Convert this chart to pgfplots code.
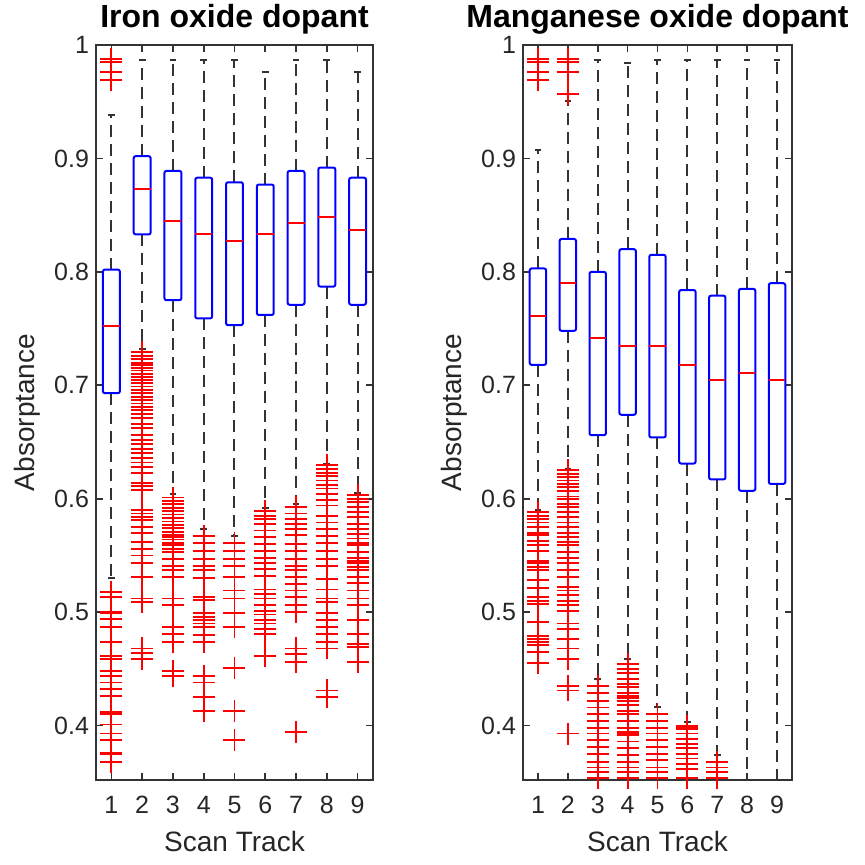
\documentclass[border=0pt]{standalone}
\usepackage{fontspec}
\setmainfont{Liberation Sans}
\usepackage{pgfplots}
\pgfplotsset{compat=1.18}
\usepgfplotslibrary{statistics}

\pgfplotsset{
  bxaxis/.style={
    scale only axis,
    clip=false,
    height=367.5pt,
    xmin=0.5, xmax=9.5,
    ymin=0.352, ymax=1,
    axis line style={black!80, line width=0.8pt},
    tick style={black!80, line width=0.8pt},
    major tick length=3.5pt,
    tick align=inside,
    xtick={1,...,9},
    xticklabels={1,2,3,4,5,6,7,8,9},
    ytick={0.4,0.5,0.6,0.7,0.8,0.9,1},
    yticklabels={0.4,0.5,0.6,0.7,0.8,0.9,1},
    tick label style={font=\fontsize{12.5}{14}\selectfont, black!85},
    xticklabel style={yshift=-4.5pt},
    label style={font=\fontsize{14}{16}\selectfont, black!85},
    xlabel style={yshift=-2pt},
    title style={font=\fontsize{16}{18}\selectfont\bfseries, yshift=-4pt},
    xlabel={Scan Track},
    ylabel={Absorptance},
    boxplot/draw direction=y,
    boxplot/box extend=0.55,
    boxplot/whisker extend=0.22,
    boxplot/every box/.style={draw=blue, line width=1pt, rounded corners=1pt},
    boxplot/every median/.style={draw=red, line width=1pt},
    boxplot/every whisker/.style={draw=black!80, line width=1pt, dash pattern=on 6pt off 3.5pt},
  },
  bx/.style={red, mark=+, mark size=5.5pt, mark options={red, solid, line width=0.9pt}},
}

\begin{document}
\begin{tikzpicture}
% ---------------- Iron oxide ----------------
\begin{axis}[bxaxis, width=138.5pt, title={Iron oxide dopant}]
\addplot[bx, boxplot prepared={draw position=1, lower whisker=0.530, lower quartile=0.693, median=0.752, upper quartile=0.802, upper whisker=0.938}]
  table[row sep=\\, y index=0] {v\\ 0.988\\ 0.985\\ 0.976\\ 0.969\\ 0.518\\ 0.513\\ 0.500\\ 0.499\\ 0.494\\ 0.487\\ 0.474\\ 0.461\\ 0.459\\ 0.448\\ 0.444\\ 0.438\\ 0.432\\ 0.426\\ 0.412\\ 0.410\\ 0.401\\ 0.393\\ 0.387\\ 0.376\\ 0.375\\ 0.368\\};
\addplot[bx, boxplot prepared={draw position=2, lower whisker=0.732, lower quartile=0.833, median=0.873, upper quartile=0.902, upper whisker=0.987}]
  table[row sep=\\, y index=0] {v\\ 0.729\\ 0.726\\ 0.723\\ 0.720\\ 0.718\\ 0.715\\ 0.713\\ 0.710\\ 0.707\\ 0.705\\ 0.702\\ 0.699\\ 0.696\\ 0.693\\ 0.690\\ 0.687\\ 0.684\\ 0.681\\ 0.678\\ 0.675\\ 0.671\\ 0.666\\ 0.662\\ 0.656\\ 0.652\\ 0.648\\ 0.644\\ 0.640\\ 0.636\\ 0.632\\ 0.628\\ 0.623\\ 0.614\\ 0.611\\ 0.608\\ 0.590\\ 0.587\\ 0.584\\ 0.581\\ 0.575\\ 0.570\\ 0.562\\ 0.556\\ 0.550\\ 0.543\\ 0.531\\ 0.512\\ 0.509\\ 0.468\\ 0.464\\ 0.459\\};
\addplot[bx, boxplot prepared={draw position=3, lower whisker=0.604, lower quartile=0.775, median=0.845, upper quartile=0.889, upper whisker=0.987}]
  table[row sep=\\, y index=0] {v\\ 0.601\\ 0.598\\ 0.595\\ 0.592\\ 0.589\\ 0.586\\ 0.583\\ 0.580\\ 0.577\\ 0.574\\ 0.571\\ 0.568\\ 0.566\\ 0.564\\ 0.561\\ 0.559\\ 0.556\\ 0.553\\ 0.547\\ 0.541\\ 0.537\\ 0.531\\ 0.512\\ 0.506\\ 0.487\\ 0.481\\ 0.474\\ 0.448\\ 0.444\\};
\addplot[bx, boxplot prepared={draw position=4, lower whisker=0.573, lower quartile=0.759, median=0.833, upper quartile=0.883, upper whisker=0.987}]
  table[row sep=\\, y index=0] {v\\ 0.567\\ 0.561\\ 0.554\\ 0.547\\ 0.541\\ 0.537\\ 0.530\\ 0.513\\ 0.511\\ 0.499\\ 0.496\\ 0.493\\ 0.490\\ 0.487\\ 0.480\\ 0.474\\ 0.444\\ 0.438\\ 0.425\\ 0.413\\};
\addplot[bx, boxplot prepared={draw position=5, lower whisker=0.567, lower quartile=0.753, median=0.827, upper quartile=0.879, upper whisker=0.987}]
  table[row sep=\\, y index=0] {v\\ 0.561\\ 0.554\\ 0.547\\ 0.541\\ 0.531\\ 0.519\\ 0.512\\ 0.499\\ 0.487\\ 0.451\\ 0.413\\ 0.387\\};
\addplot[bx, boxplot prepared={draw position=6, lower whisker=0.592, lower quartile=0.762, median=0.833, upper quartile=0.877, upper whisker=0.976}]
  table[row sep=\\, y index=0] {v\\ 0.589\\ 0.585\\ 0.582\\ 0.578\\ 0.572\\ 0.566\\ 0.560\\ 0.554\\ 0.548\\ 0.543\\ 0.538\\ 0.532\\ 0.520\\ 0.516\\ 0.512\\ 0.506\\ 0.501\\ 0.498\\ 0.493\\ 0.490\\ 0.485\\ 0.481\\ 0.461\\};
\addplot[bx, boxplot prepared={draw position=7, lower whisker=0.595, lower quartile=0.771, median=0.843, upper quartile=0.889, upper whisker=0.987}]
  table[row sep=\\, y index=0] {v\\ 0.593\\ 0.587\\ 0.582\\ 0.578\\ 0.573\\ 0.568\\ 0.560\\ 0.554\\ 0.547\\ 0.541\\ 0.537\\ 0.531\\ 0.525\\ 0.519\\ 0.513\\ 0.506\\ 0.500\\ 0.468\\ 0.463\\ 0.456\\ 0.394\\};
\addplot[bx, boxplot prepared={draw position=8, lower whisker=0.631, lower quartile=0.787, median=0.848, upper quartile=0.892, upper whisker=0.987}]
  table[row sep=\\, y index=0] {v\\ 0.630\\ 0.626\\ 0.623\\ 0.620\\ 0.616\\ 0.612\\ 0.609\\ 0.604\\ 0.599\\ 0.594\\ 0.585\\ 0.579\\ 0.573\\ 0.567\\ 0.561\\ 0.554\\ 0.547\\ 0.541\\ 0.529\\ 0.520\\ 0.512\\ 0.509\\ 0.499\\ 0.493\\ 0.487\\ 0.481\\ 0.474\\ 0.468\\ 0.431\\ 0.425\\};
\addplot[bx, boxplot prepared={draw position=9, lower whisker=0.605, lower quartile=0.771, median=0.837, upper quartile=0.883, upper whisker=0.976}]
  table[row sep=\\, y index=0] {v\\ 0.603\\ 0.600\\ 0.597\\ 0.593\\ 0.588\\ 0.584\\ 0.578\\ 0.573\\ 0.569\\ 0.565\\ 0.561\\ 0.559\\ 0.553\\ 0.548\\ 0.545\\ 0.543\\ 0.540\\ 0.537\\ 0.531\\ 0.526\\ 0.519\\ 0.512\\ 0.506\\ 0.493\\ 0.481\\ 0.472\\ 0.469\\ 0.456\\};
\end{axis}

% ---------------- Manganese oxide ----------------
\begin{axis}[bxaxis, at={(213.5pt,0pt)}, width=134.5pt, title={Manganese oxide dopant}]
\addplot[bx, boxplot prepared={draw position=1, lower whisker=0.590, lower quartile=0.718, median=0.761, upper quartile=0.803, upper whisker=0.907}]
  table[row sep=\\, y index=0] {v\\ 0.988\\ 0.985\\ 0.976\\ 0.969\\ 0.588\\ 0.585\\ 0.582\\ 0.579\\ 0.575\\ 0.570\\ 0.568\\ 0.563\\ 0.559\\ 0.554\\ 0.545\\ 0.543\\ 0.540\\ 0.537\\ 0.528\\ 0.521\\ 0.513\\ 0.510\\ 0.507\\ 0.491\\ 0.479\\ 0.476\\ 0.474\\ 0.471\\ 0.465\\ 0.455\\};
\addplot[bx, boxplot prepared={draw position=2, lower whisker=0.626, lower quartile=0.748, median=0.790, upper quartile=0.829, upper whisker=0.951}]
  table[row sep=\\, y index=0] {v\\ 0.988\\ 0.985\\ 0.976\\ 0.957\\ 0.625\\ 0.622\\ 0.619\\ 0.616\\ 0.613\\ 0.610\\ 0.607\\ 0.602\\ 0.600\\ 0.595\\ 0.593\\ 0.588\\ 0.584\\ 0.579\\ 0.575\\ 0.570\\ 0.566\\ 0.562\\ 0.559\\ 0.553\\ 0.548\\ 0.543\\ 0.537\\ 0.531\\ 0.522\\ 0.519\\ 0.515\\ 0.510\\ 0.506\\ 0.501\\ 0.490\\ 0.485\\ 0.476\\ 0.468\\ 0.459\\ 0.435\\ 0.431\\ 0.393\\};
\addplot[bx, boxplot prepared={draw position=3, lower whisker=0.441, lower quartile=0.656, median=0.742, upper quartile=0.800, upper whisker=0.987}]
  table[row sep=\\, y index=0] {v\\ 0.435\\ 0.429\\ 0.422\\ 0.416\\ 0.410\\ 0.404\\ 0.398\\ 0.393\\ 0.387\\ 0.381\\ 0.375\\ 0.368\\ 0.363\\ 0.359\\ 0.354\\};
\addplot[bx, boxplot prepared={draw position=4, lower whisker=0.459, lower quartile=0.674, median=0.735, upper quartile=0.820, upper whisker=0.984}]
  table[row sep=\\, y index=0] {v\\ 0.454\\ 0.450\\ 0.446\\ 0.441\\ 0.437\\ 0.434\\ 0.429\\ 0.426\\ 0.424\\ 0.422\\ 0.418\\ 0.413\\ 0.410\\ 0.404\\ 0.398\\ 0.394\\ 0.393\\ 0.392\\ 0.386\\ 0.380\\ 0.374\\ 0.368\\ 0.363\\ 0.359\\ 0.354\\};
\addplot[bx, boxplot prepared={draw position=5, lower whisker=0.416, lower quartile=0.654, median=0.735, upper quartile=0.815, upper whisker=0.987}]
  table[row sep=\\, y index=0] {v\\ 0.410\\ 0.404\\ 0.398\\ 0.393\\ 0.387\\ 0.381\\ 0.375\\ 0.370\\ 0.363\\ 0.359\\ 0.354\\};
\addplot[bx, boxplot prepared={draw position=6, lower whisker=0.403, lower quartile=0.631, median=0.718, upper quartile=0.784, upper whisker=0.987}]
  table[row sep=\\, y index=0] {v\\ 0.400\\ 0.399\\ 0.398\\ 0.397\\ 0.393\\ 0.388\\ 0.384\\ 0.380\\ 0.375\\ 0.371\\ 0.366\\ 0.362\\ 0.354\\};
\addplot[bx, boxplot prepared={draw position=7, lower whisker=0.374, lower quartile=0.617, median=0.705, upper quartile=0.779, upper whisker=0.987}]
  table[row sep=\\, y index=0] {v\\ 0.368\\ 0.363\\ 0.359\\ 0.354\\};
\addplot[bx, boxplot prepared={draw position=8, lower whisker=0.352, lower quartile=0.607, median=0.711, upper quartile=0.785, upper whisker=0.987}]
  coordinates {};
\addplot[bx, boxplot prepared={draw position=9, lower whisker=0.352, lower quartile=0.613, median=0.705, upper quartile=0.790, upper whisker=0.987}]
  coordinates {};
\end{axis}

\pgfresetboundingbox
\path[use as bounding box] (-48pt,-42pt) rectangle (384.5pt,390pt);
\end{tikzpicture}
\end{document}
